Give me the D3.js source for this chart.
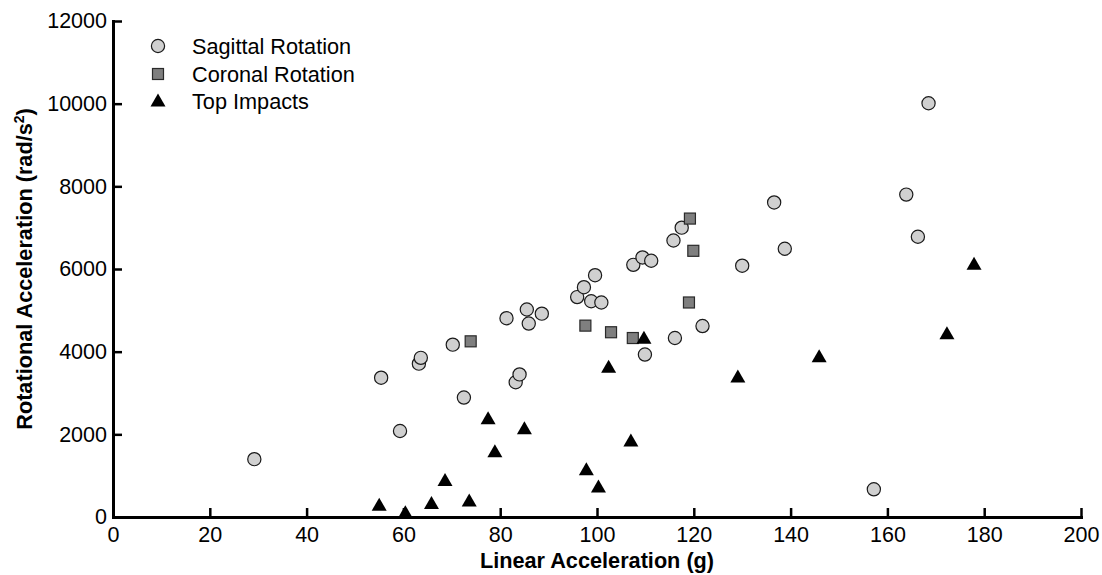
<!DOCTYPE html>
<html>
<head>
<meta charset="utf-8">
<script src="https://cdn.jsdelivr.net/npm/d3@7"></script>
<style>
  body { margin: 0; background: #fff; }
  svg { display: block; font-family: Arial, "Liberation Sans", sans-serif; }
</style>
</head>
<body>
<svg id="chart" width="1102" height="575"></svg>
<script>
// values: [linear acceleration (g), rotational acceleration (rad/s2)]
const sagittal = [
  [29.2, 1400], [55.4, 3370], [59.3, 2080], [63.2, 3710], [63.6, 3850],
  [70.2, 4170], [72.5, 2890], [81.3, 4810], [83.2, 3260], [84.0, 3450],
  [85.5, 5020], [85.9, 4680], [88.6, 4920], [95.9, 5320], [97.3, 5560],
  [98.8, 5220], [99.6, 5850], [100.9, 5190], [107.5, 6100], [109.4, 6280],
  [109.9, 3930], [111.2, 6200], [115.8, 6690], [116.1, 4330], [117.5, 7000],
  [121.8, 4620], [130.0, 6080], [136.6, 7610], [138.8, 6490], [157.2, 670],
  [163.9, 7800], [166.3, 6780], [168.5, 10010]
];
const coronal = [
  [73.9, 4250], [97.6, 4630], [102.9, 4470], [107.4, 4330],
  [119.0, 5190], [119.2, 7220], [119.9, 6440]
];
const topImpacts = [
  [55.0, 310], [60.4, 130], [65.8, 350], [68.6, 910], [73.6, 410],
  [77.5, 2400], [78.9, 1600], [85.0, 2160], [97.8, 1170], [100.3, 750],
  [102.4, 3650], [107.0, 1860], [109.7, 4350], [129.1, 3410], [145.9, 3900],
  [172.3, 4460], [177.9, 6140]
];
const xTicks = [0, 20, 40, 60, 80, 100, 120, 140, 160, 180, 200];
const yTicks = [0, 2000, 4000, 6000, 8000, 10000, 12000];
const legendNames = ["Sagittal Rotation", "Coronal Rotation", "Top Impacts"];

const svg = d3.select("#chart");
const plotLeft = 113, plotRight = 1081, plotTop = 21, plotBottom = 517;

const x = d3.scaleLinear().domain([0, 200]).range([plotLeft, plotRight]);
const y = d3.scaleLinear().domain([0, 12000]).range([plotBottom, plotTop]);

// axes, ticks pointing into the plot
const xAxis = d3.axisBottom(x).tickValues(xTicks).tickFormat(d3.format("d"))
  .tickSizeInner(-9).tickSizeOuter(0).tickPadding(10);
const yAxis = d3.axisLeft(y).tickValues(yTicks).tickFormat(d3.format("d"))
  .tickSizeInner(-9).tickSizeOuter(0).tickPadding(6);

const gx = svg.append("g").attr("transform", `translate(0,${plotBottom})`).call(xAxis);
const gy = svg.append("g").attr("transform", `translate(${plotLeft},0)`).call(yAxis);

[gx, gy].forEach(g => {
  g.select(".domain").attr("stroke", "#000").attr("stroke-width", 3).attr("stroke-linecap", "square");
  g.selectAll(".tick line").attr("stroke", "#000").attr("stroke-width", 2.5);
  g.selectAll(".tick text").attr("fill", "#000").attr("font-size", 21.5)
    .attr("font-family", "Arial, 'Liberation Sans', sans-serif");
});

// axis titles
svg.append("text")
  .attr("x", (plotLeft + plotRight) / 2)
  .attr("y", 568)
  .attr("text-anchor", "middle")
  .attr("font-size", 21.7)
  .attr("font-weight", "bold")
  .text("Linear Acceleration (g)");

const yt = svg.append("text")
  .attr("transform", `translate(32,${(plotTop + plotBottom) / 2}) rotate(-90)`)
  .attr("text-anchor", "middle")
  .attr("font-size", 21.7)
  .attr("font-weight", "bold");
yt.append("tspan").text("Rotational Acceleration (rad/s");
yt.append("tspan").attr("font-size", 14).attr("dy", -8).text("2");
yt.append("tspan").attr("dy", 8).text(")");

// marker shapes
const triPath = "M0,-6.5L7.5,6.5L-7.5,6.5Z";

function drawCircle(sel) {
  sel.attr("r", 6.6).attr("fill", "#d0d0d0").attr("stroke", "#1a1a1a").attr("stroke-width", 1.2);
}
function drawSquare(sel) {
  sel.attr("width", 11).attr("height", 11).attr("fill", "#7f7f7f").attr("stroke", "#2a2a2a").attr("stroke-width", 1.2);
}

svg.append("g").selectAll("circle").data(sagittal).join("circle")
  .attr("cx", d => x(d[0])).attr("cy", d => y(d[1]))
  .call(drawCircle);

svg.append("g").selectAll("rect").data(coronal).join("rect")
  .attr("x", d => x(d[0]) - 5.5).attr("y", d => y(d[1]) - 5.5)
  .call(drawSquare);

svg.append("g").selectAll("path").data(topImpacts).join("path")
  .attr("d", triPath)
  .attr("transform", d => `translate(${x(d[0])},${y(d[1])})`)
  .attr("fill", "#000");

// legend
const legend = svg.append("g");
const rowY = [46, 74, 101];
legend.append("circle").attr("cx", 158).attr("cy", rowY[0]).call(drawCircle);
legend.append("rect").attr("x", 152.5).attr("y", rowY[1] - 5.5).call(drawSquare);
legend.append("path").attr("d", triPath).attr("transform", `translate(158,${rowY[2] - 1})`).attr("fill", "#000");
legend.selectAll("text").data(legendNames).join("text")
  .attr("x", 192)
  .attr("y", (d, i) => rowY[i] + 8)
  .attr("font-size", 21.7)
  .text(d => d);
</script>
</body>
</html>
